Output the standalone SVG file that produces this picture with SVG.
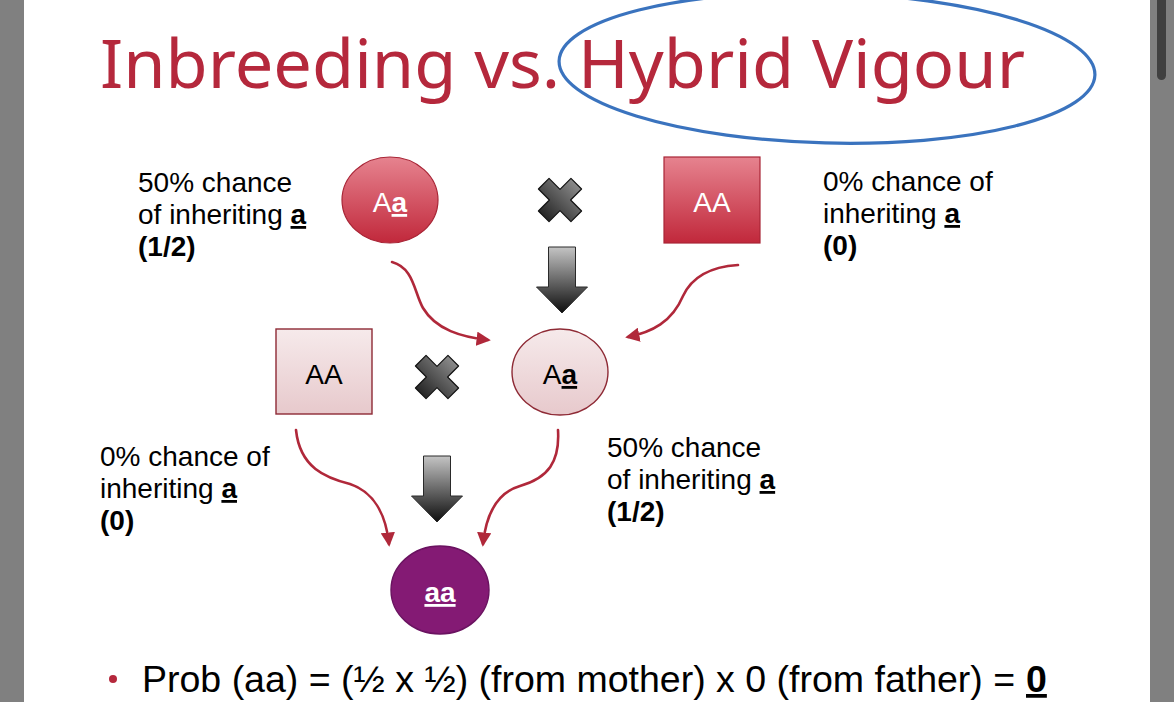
<svg xmlns="http://www.w3.org/2000/svg" width="1174" height="702" viewBox="0 0 1174 702">
<style>
.lbl{font-family:"Liberation Sans",Arial,sans-serif;font-size:28px;fill:#000}
.b{font-weight:bold}
.u{text-decoration:underline}
.nt{font-family:"Liberation Sans",Arial,sans-serif;font-size:28px;text-anchor:middle}
.con{fill:none;stroke:#B0283A;stroke-width:2.6;stroke-linecap:round}
.fm{font-family:"Liberation Sans",Arial,sans-serif;font-size:37.5px;fill:#000}
</style>
<defs>
<linearGradient id="gRed" x1="0" y1="0" x2="0" y2="1">
<stop offset="0" stop-color="#E6838F"/><stop offset="1" stop-color="#C1283B"/>
</linearGradient>
<linearGradient id="gPink" x1="0" y1="0" x2="0" y2="1">
<stop offset="0" stop-color="#F6EAEB"/><stop offset="1" stop-color="#E7C9CC"/>
</linearGradient>
<linearGradient id="gGray" x1="0" y1="0" x2="0" y2="1">
<stop offset="0" stop-color="#C4C4C4"/><stop offset="1" stop-color="#0E0E0E"/>
</linearGradient>
<linearGradient id="gX" x1="0" y1="0" x2="0" y2="1">
<stop offset="0" stop-color="#8A8A8A"/><stop offset="1" stop-color="#262626"/>
</linearGradient>
<marker id="ah" viewBox="0 0 10 10" refX="8" refY="5" markerWidth="5.5" markerHeight="5.5" orient="auto" markerUnits="strokeWidth">
<path d="M0,0 L10,5 L0,10 Z" fill="#B0283A"/>
</marker>
<path id="xm" d="M-7.5,-23 L7.5,-23 L7.5,-7.5 L23,-7.5 L23,7.5 L7.5,7.5 L7.5,23 L-7.5,23 L-7.5,7.5 L-23,7.5 L-23,-7.5 L-7.5,-7.5 Z" transform="rotate(45)" fill="url(#gX)" stroke="#111" stroke-width="1.2" stroke-linejoin="round"/>
<path id="da" d="M-13.5,0 L13.5,0 L13.5,40 L25.5,40 L0,66 L-25.5,40 L-13.5,40 Z" fill="url(#gGray)" stroke="#2a2a2a" stroke-width="1"/>
</defs>

<rect x="0" y="0" width="1174" height="702" fill="#FFFFFF"/>
<rect x="0" y="0" width="24" height="702" fill="#808080"/>
<rect x="1150" y="0" width="24" height="702" fill="#808080"/>
<rect x="1157" y="-10" width="9" height="90" rx="4.5" fill="#404040"/>

<g id="title">
<text x="100" y="88" font-family="'Noto Sans','Open Sans',sans-serif" font-size="68" fill="#B5283C" textLength="925" lengthAdjust="spacingAndGlyphs">Inbreeding vs. Hybrid Vigour</text>
<ellipse cx="827" cy="68" rx="268" ry="75" fill="none" stroke="#3A73BE" stroke-width="3.2" transform="rotate(1.5 827 68)"/>
</g>

<g id="connectors">
<path class="con" marker-end="url(#ah)" d="M392,262 C414,268 414,292 423,308 C436,330 462,337 488,340"/>
<path class="con" marker-end="url(#ah)" d="M738,265 C706,267 690,281 683,296 C672,322 652,332 628,337"/>
<path class="con" marker-end="url(#ah)" d="M296,430 C300,468 326,478 350,484 C374,492 386,515 389,544"/>
<path class="con" marker-end="url(#ah)" d="M558,430 C560,462 548,478 520,486 C496,493 486,515 483,544"/>
<use href="#da" x="562" y="247"/>
<use href="#da" x="437" y="456"/>
</g>

<g id="cross-top"><use href="#xm" x="560" y="200"/></g>
<g id="cross-mid"><use href="#xm" x="437" y="377"/></g>

<g id="mother-top">
<ellipse cx="390" cy="200" rx="48" ry="43" fill="url(#gRed)" stroke="#A82536" stroke-width="1.2"/>
<text class="nt" x="390" y="212" fill="#FFFFFF">A<tspan class="b u">a</tspan></text>
</g>
<g id="father-top">
<rect x="664" y="157" width="96" height="86" fill="url(#gRed)" stroke="#A82536" stroke-width="1.2"/>
<text class="nt" x="712" y="212" fill="#FFFFFF">AA</text>
</g>
<g id="father-mid">
<rect x="276" y="329" width="96" height="85" fill="url(#gPink)" stroke="#8E2A35" stroke-width="1.4"/>
<text class="nt" x="324" y="384" fill="#000">AA</text>
</g>
<g id="mother-mid">
<ellipse cx="560" cy="372" rx="48" ry="43" fill="url(#gPink)" stroke="#8E2A35" stroke-width="1.4"/>
<text class="nt" x="560" y="384" fill="#000">A<tspan class="b u">a</tspan></text>
</g>
<g id="child">
<ellipse cx="440" cy="590" rx="49" ry="44" fill="#841A74" stroke="#6A1260" stroke-width="1.4"/>
<text class="nt b u" x="440" y="602" fill="#FFFFFF">aa</text>
</g>

<g id="label-tl">
<text class="lbl" x="138" y="192">50% chance</text>
<text class="lbl" x="138" y="224">of inheriting <tspan class="b u">a</tspan></text>
<text class="lbl b" x="138" y="256">(1/2)</text>
</g>
<g id="label-tr">
<text class="lbl" x="823" y="191">0% chance of</text>
<text class="lbl" x="823" y="223">inheriting <tspan class="b u">a</tspan></text>
<text class="lbl b" x="823" y="255">(0)</text>
</g>
<g id="label-bl">
<text class="lbl" x="100" y="466">0% chance of</text>
<text class="lbl" x="100" y="498">inheriting <tspan class="b u">a</tspan></text>
<text class="lbl b" x="100" y="530">(0)</text>
</g>
<g id="label-br">
<text class="lbl" x="607" y="457">50% chance</text>
<text class="lbl" x="607" y="489">of inheriting <tspan class="b u">a</tspan></text>
<text class="lbl b" x="607" y="521">(1/2)</text>
</g>

<g id="formula">
<circle cx="113" cy="679" r="4" fill="#B5283C"/>
<text class="fm" x="142" y="692">Prob (aa) = (½ x ½) (from mother) x 0 (from father) =</text>
<text class="fm b u" x="1026" y="692">0</text>
</g>
</svg>
